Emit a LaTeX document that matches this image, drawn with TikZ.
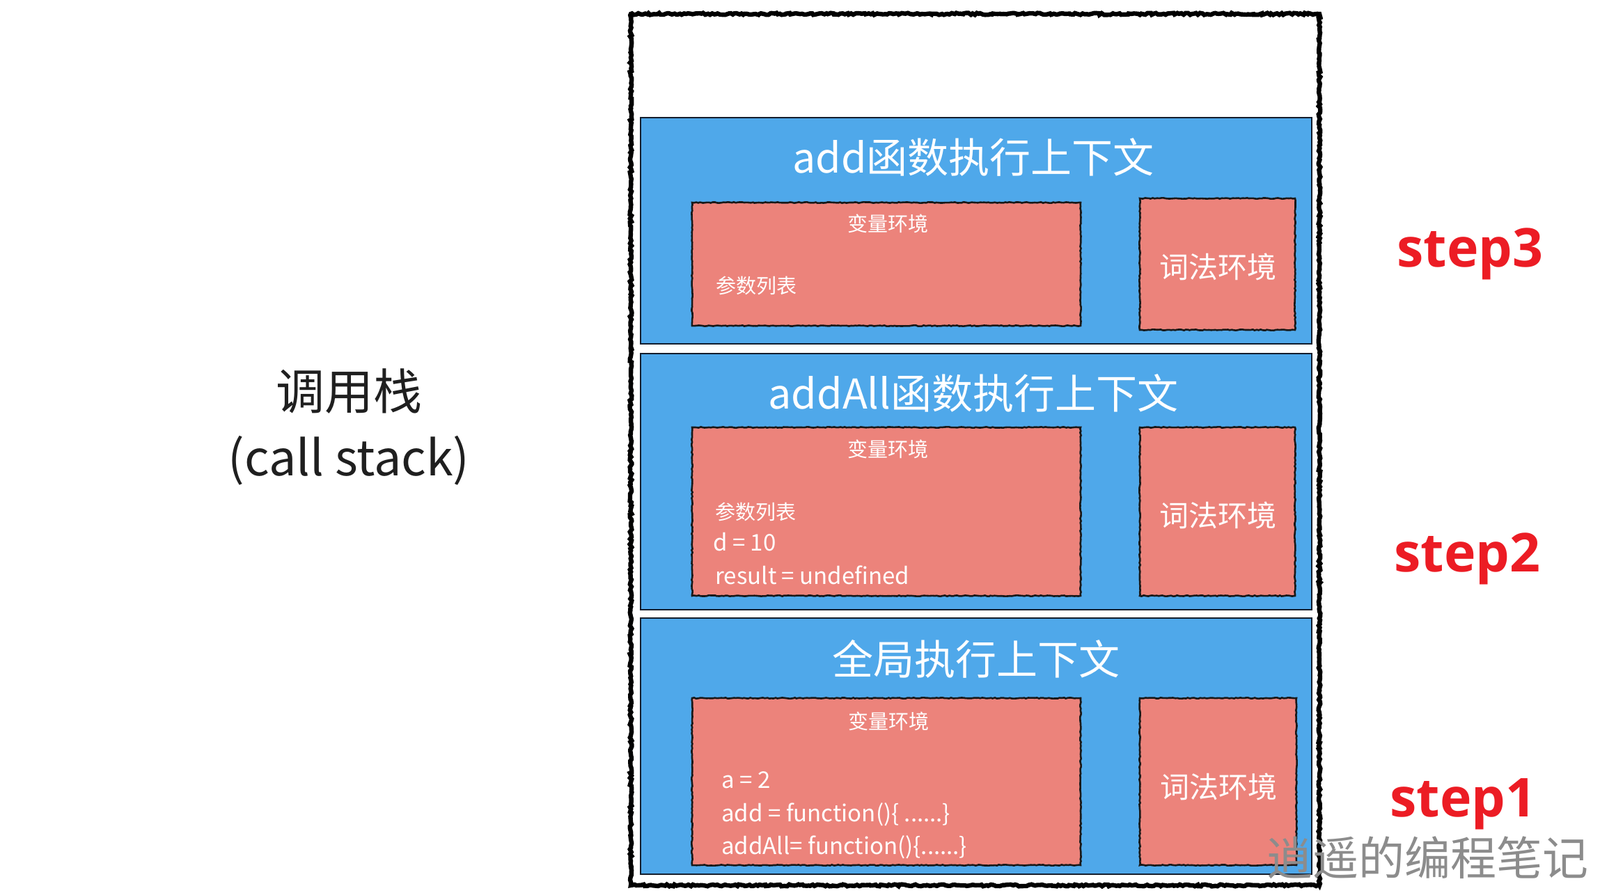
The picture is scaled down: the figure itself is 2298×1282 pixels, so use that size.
\documentclass[tikz,border=0pt]{standalone}
\usepackage{fontspec}
\setmainfont{Noto Sans CJK SC}
\newfontfamily\stepfont{Open Sans}
\usetikzlibrary{fit,decorations.pathmorphing}
\definecolor{blueC}{RGB}{79,168,234}
\definecolor{redC}{RGB}{236,131,123}
\definecolor{stepred}{RGB}{236,28,36}
\definecolor{edgeC}{RGB}{20,30,45}
\tikzset{
  outerbox/.style={draw=black, line width=3.2pt, inner sep=0pt, decorate,
    decoration={random steps, segment length=1.5pt, amplitude=0.7pt}},
  bluebox/.style={draw=edgeC, fill=blueC, line width=1.4pt, inner sep=0pt},
  redbox/.style={draw=black!90, fill=redC, line width=1.3pt, inner sep=0pt, decorate,
    decoration={random steps, segment length=1.5pt, amplitude=0.35pt}},
  titletext/.style={text=white, inner sep=0pt, font=\fontsize{29.5}{32}\selectfont},
  vartext/.style={text=white, inner sep=0pt, font=\fontsize{14.5}{17}\selectfont},
  lextext/.style={text=white, inner sep=0pt, font=\fontsize{21}{24}\selectfont},
  codetext/.style={text=white, inner sep=0pt, anchor=west, font=\fontsize{16.5}{19}\selectfont},
  steplabel/.style={text=stepred, inner sep=0pt, anchor=base west, font=\stepfont\bfseries\fontsize{38.5}{42}\selectfont},
  sidetext/.style={text=black!88, inner sep=0pt, font=\fontsize{35}{40}\selectfont},
}
\begin{document}
\begin{tikzpicture}[x=0.5pt,y=-0.5pt]
\useasboundingbox (0,0) rectangle (2298,1282);
\fill[white] (0,0) rectangle (2298,1282);

% outer stack box
\node[outerbox, fit={(906,20)(1895,1272)}] (stack) {};

% blue context boxes
\node[bluebox, fit={(920,169)(1884,494)}] (b1) {};
\node[bluebox, fit={(920,508)(1884,876)}] (b2) {};
\node[bluebox, fit={(920,888)(1884,1256)}] (b3) {};

% red environment boxes
\node[redbox, fit={(994,291)(1552,468)}] (v1) {};
\node[redbox, fit={(1637,285)(1860,474)}] (l1) {};
\node[redbox, fit={(994,614)(1552,856)}] (v2) {};
\node[redbox, fit={(1637,614)(1860,856)}] (l2) {};
\node[redbox, fit={(994,1003)(1552,1243)}] (v3) {};
\node[redbox, fit={(1637,1003)(1862,1243)}] (l3) {};

% titles
\node[titletext] (t1) at (1398,226) {add函数执行上下文};
\node[titletext] (t2) at (1398,565) {addAll函数执行上下文};
\node[titletext] (t3) at (1402,947) {全局执行上下文};

% variable environment labels
\node[vartext] (vl1) at (1275,321) {变量环境};
\node[vartext] (vl2) at (1275,645) {变量环境};
\node[vartext] (vl3) at (1276,1036) {变量环境};

% lexical environment labels
\node[lextext] (ll1) at (1749,383) {词法环境};
\node[lextext] (ll2) at (1749,740) {词法环境};
\node[lextext] (ll3) at (1750,1130) {词法环境};

% contents
\node[codetext, font=\fontsize{14.5}{17}\selectfont] (p1) at (1028,410) {参数列表};
\node[codetext, font=\fontsize{14.5}{17}\selectfont] (p2) at (1027,735) {参数列表};
\node[codetext] (d2) at (1024,779) {d = 10};
\node[codetext] (r2) at (1027,826) {result = undefined};
\node[codetext] (a3) at (1036,1121) {a = 2};
\node[codetext] (f3) at (1036,1170) {add = function()\{ ......\}};
\node[codetext] (g3) at (1036,1217) {addAll= function()\{......\}};

% step labels
\node[steplabel] (s3) at (2006,383) {step3};
\node[steplabel] (s2) at (2002,821) {step2};
\node[steplabel] (s1) at (1996,1173) {step1};

% side label
\node[sidetext] (cs1) at (501,562) {调用栈};
\node[sidetext] (cs2) at (501,662) {(call stack)};

% watermark
\node[text=black!45, inner sep=0pt, font=\fontsize{33}{36}\selectfont] (wm) at (2050,1232) {逍遥的编程笔记};
\end{tikzpicture}
\end{document}
